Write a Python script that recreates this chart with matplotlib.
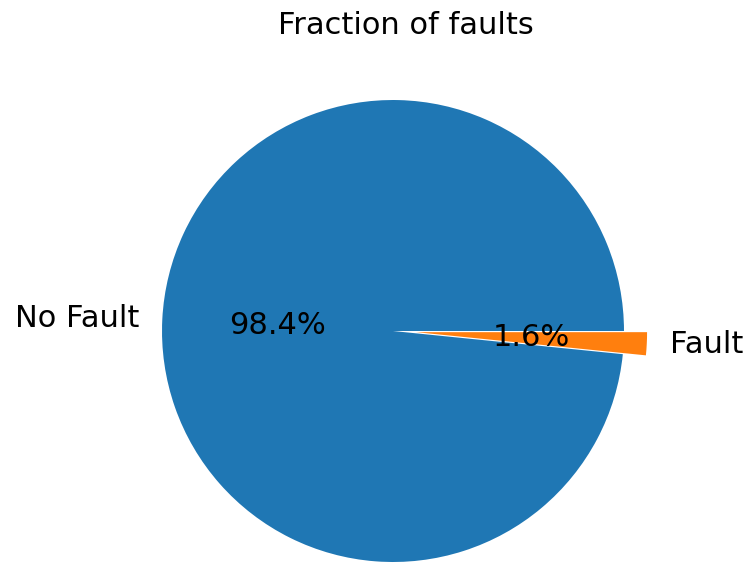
import matplotlib
matplotlib.use("Agg")
import matplotlib.pyplot as plt

labels = ["No Fault", "Fault"]
fractions = [98.4, 1.6]
explode = [0, 0.1]

plt.rcParams["font.size"] = 22

fig = plt.figure(figsize=(7.49, 5.65), dpi=100)
# axes placed so the pie sits where it does in the original (it runs off the bottom a bit)
ax = fig.add_axes([0.1392, -0.0969, 0.7710, 1.0221])
ax.pie(fractions, labels=labels, explode=explode, autopct="%1.1f%%", pctdistance=0.5)
fig.text(406 / 749, 1 - 34 / 565, "Fraction of faults", ha="center", va="baseline", fontsize=22)
plt.savefig("out.png")
